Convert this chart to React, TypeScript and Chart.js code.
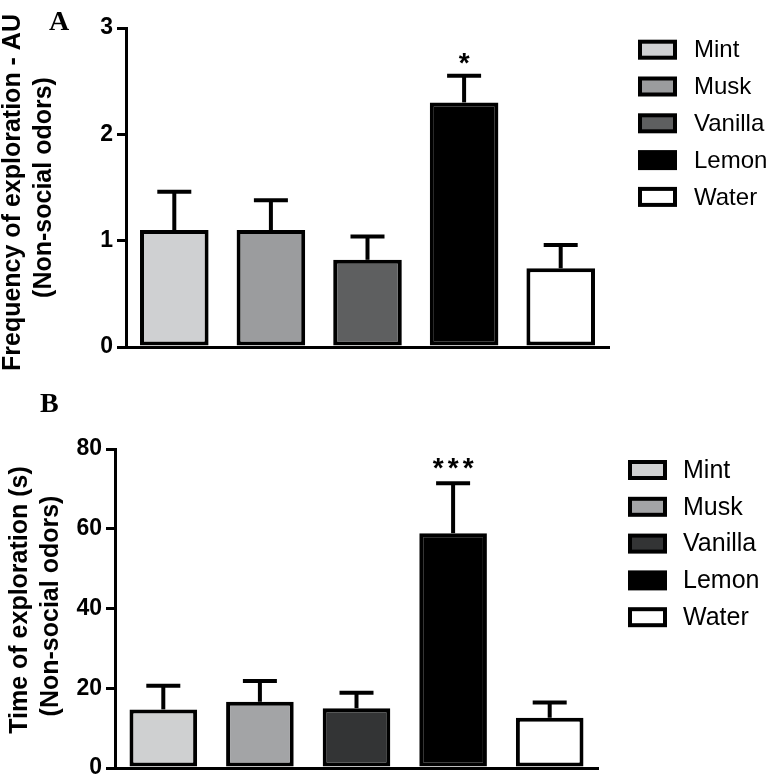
import React, { useEffect, useRef } from 'react';
import { Chart, registerables } from 'chart.js';

Chart.register(...registerables);

// ---------- data ----------
const categories = ['Mint', 'Musk', 'Vanilla', 'Lemon', 'Water'];

const freqMeans = [1.1, 1.1, 0.82, 2.3, 0.74];
const freqErrors = [0.36, 0.28, 0.22, 0.25, 0.22];
const freqTicks = [0, 1, 2, 3];
const freqColors = ['#cfd0d2', '#9b9c9e', '#5e5f60', '#000000', '#ffffff'];
const freqMarks = ['', '', '', '*', ''];
const freqTitle = ['Frequency of exploration - AU', '(Non-social odors)'];

const timeMeans = [14.7, 16.6, 15.0, 58.9, 12.6];
const timeErrors = [5.9, 5.2, 3.9, 12.5, 3.8];
const timeTicks = [0, 20, 40, 60, 80];
const timeColors = ['#cfd0d1', '#a3a4a6', '#333435', '#000000', '#ffffff'];
const timeMarks = ['', '', '', '***', ''];
const timeTitle = ['Time of exploration (s)', '(Non-social odors)'];

const SANS = "'Liberation Sans', Arial, Helvetica, sans-serif";
const SERIF = "'Liberation Serif', 'Times New Roman', serif";

const panelPlugin = {
  id: 'panel',
  afterDatasetsDraw(chart: any, _args: any, opts: any) {
    const ctx = chart.ctx;
    const ys = chart.scales.y;
    const meta = chart.getDatasetMeta(0);
    ctx.save();
    ctx.strokeStyle = '#000';
    ctx.fillStyle = '#000';
    ctx.lineWidth = 4;
    ctx.lineCap = 'butt';
    meta.data.forEach((bar: any, i: number) => {
      const x = bar.x;
      const yTop = ys.getPixelForValue(opts.means[i]);
      const yCap = ys.getPixelForValue(opts.means[i] + opts.errors[i]);
      ctx.beginPath();
      ctx.moveTo(x, yTop);
      ctx.lineTo(x, yCap);
      ctx.stroke();
      ctx.beginPath();
      ctx.moveTo(x - opts.capHalf, yCap);
      ctx.lineTo(x + opts.capHalf, yCap);
      ctx.stroke();
      const mark: string = opts.marks[i];
      if (mark) {
        ctx.font = `bold ${opts.markSize}px ${SANS}`;
        ctx.textAlign = 'center';
        ctx.textBaseline = 'alphabetic';
        const n = mark.length;
        for (let k = 0; k < n; k++) {
          const dx = (k - (n - 1) / 2) * opts.markSpacing;
          ctx.fillText('*', x + dx, yCap + opts.markOffset);
        }
      }
    });
    ctx.restore();
  },
  afterDraw(chart: any, _args: any, opts: any) {
    const ctx = chart.ctx;
    const area = chart.chartArea;
    ctx.save();
    // legend
    const bx = area.right + opts.legendGap;
    opts.labels.forEach((label: string, i: number) => {
      const cy = area.top + opts.legendTop + i * opts.legendStep;
      const bw = 39, bh = 20, b = 4;
      ctx.fillStyle = '#000';
      ctx.fillRect(bx, cy - bh / 2, bw, bh);
      ctx.fillStyle = opts.colors[i];
      ctx.fillRect(bx + b, cy - bh / 2 + b, bw - 2 * b, bh - 2 * b);
      ctx.fillStyle = '#000';
      ctx.font = `${opts.legendFont}px ${SANS}`;
      ctx.textAlign = 'left';
      ctx.textBaseline = 'middle';
      ctx.fillText(label, bx + opts.legendTextDx, cy + 1);
    });
    // y titles (two lines, rotated)
    ctx.font = `bold ${opts.titleFont}px ${SANS}`;
    ctx.fillStyle = '#000';
    ctx.textBaseline = 'alphabetic';
    opts.titleLines.forEach((t: any) => {
      ctx.save();
      ctx.translate(t.x, t.y);
      ctx.rotate(-Math.PI / 2);
      ctx.textAlign = t.align;
      ctx.fillText(t.text, 0, 0);
      ctx.restore();
    });
    // panel letter
    ctx.font = `bold 28px ${SERIF}`;
    ctx.textAlign = 'left';
    ctx.textBaseline = 'alphabetic';
    ctx.fillText(opts.letter, opts.letterX, opts.letterY);
    ctx.restore();
  },
};

function makeChart(canvas: HTMLCanvasElement, cfg: any) {
  return new Chart(canvas, {
    type: 'bar',
    data: {
      labels: categories,
      datasets: [
        {
          data: cfg.means,
          backgroundColor: cfg.colors,
          borderColor: '#000',
          borderWidth: 4,
          borderSkipped: false,
          barPercentage: cfg.barPct,
          categoryPercentage: 1,
        },
      ],
    },
    options: {
      responsive: false,
      animation: false,
      devicePixelRatio: 1,
      layout: { padding: cfg.padding },
      plugins: {
        legend: { display: false },
        tooltip: { enabled: false },
        panel: cfg.panel,
      } as any,
      scales: {
        x: {
          grid: { display: false },
          ticks: { display: false },
          border: { display: true, color: '#000', width: 3 },
          afterFit: (s: any) => {
            s.height = 0;
          },
        },
        y: {
          min: 0,
          max: cfg.ticks[cfg.ticks.length - 1],
          afterBuildTicks: (s: any) => {
            s.ticks = cfg.ticks.map((v: number) => ({ value: v }));
          },
          ticks: {
            color: '#000',
            padding: 4,
            font: { family: SANS, size: 23, weight: 'bold', lineHeight: 0.8 },
          },
          grid: {
            display: true,
            drawOnChartArea: false,
            drawTicks: true,
            tickLength: 9,
            color: '#000',
            lineWidth: 3,
          },
          border: { display: true, color: '#000', width: 3 },
          afterFit: (s: any) => {
            s.width = cfg.axisX;
          },
        },
      },
    } as any,
    plugins: [panelPlugin as any],
  });
}

export default function App() {
  const refA = useRef<HTMLCanvasElement>(null);
  const refB = useRef<HTMLCanvasElement>(null);

  useEffect(() => {
    const a = makeChart(refA.current!, {
      means: freqMeans,
      colors: freqColors,
      ticks: freqTicks,
      barPct: 0.71,
      axisX: 126,
      padding: { left: 0, top: 28, right: 162, bottom: 38 },
      panel: {
        means: freqMeans,
        errors: freqErrors,
        marks: freqMarks,
        capHalf: 17,
        markSize: 28,
        markSpacing: 15,
        markOffset: -4,
        labels: categories,
        colors: freqColors,
        legendGap: 29,
        legendTop: 21.7,
        legendStep: 36.8,
        legendFont: 24,
        legendTextDx: 56,
        titleFont: 25,
        titleLines: [
          { text: freqTitle[0], x: 20, y: 371, align: 'left' },
          { text: freqTitle[1], x: 51, y: 187.5, align: 'center' },
        ],
        letter: 'A',
        letterX: 49,
        letterY: 30,
      },
    });
    const b = makeChart(refB.current!, {
      means: timeMeans,
      colors: timeColors,
      ticks: timeTicks,
      barPct: 0.7,
      axisX: 115,
      padding: { left: 0, top: 64, right: 173, bottom: 32 },
      panel: {
        means: timeMeans,
        errors: timeErrors,
        marks: timeMarks,
        capHalf: 17,
        markSize: 28,
        markSpacing: 15,
        markOffset: -6,
        labels: categories,
        colors: timeColors,
        legendGap: 30,
        legendTop: 21,
        legendStep: 36.8,
        legendFont: 25,
        legendTextDx: 55,
        titleFont: 25,
        titleLines: [
          { text: timeTitle[0], x: 27, y: 215, align: 'center' },
          { text: timeTitle[1], x: 58, y: 221, align: 'center' },
        ],
        letter: 'B',
        letterX: 40,
        letterY: 27,
      },
    });
    return () => {
      a.destroy();
      b.destroy();
    };
  }, []);

  return (
    <div
      style={{
        position: 'absolute',
        left: 0,
        top: 0,
        width: 771,
        height: 777,
        overflow: 'hidden',
        background: '#fff',
      }}
    >
      <canvas
        ref={refA}
        width={771}
        height={385}
        style={{ position: 'absolute', left: 0, top: 0, width: 771, height: 385 }}
      />
      <canvas
        ref={refB}
        width={771}
        height={415}
        style={{ position: 'absolute', left: 0, top: 385, width: 771, height: 415 }}
      />
    </div>
  );
}
